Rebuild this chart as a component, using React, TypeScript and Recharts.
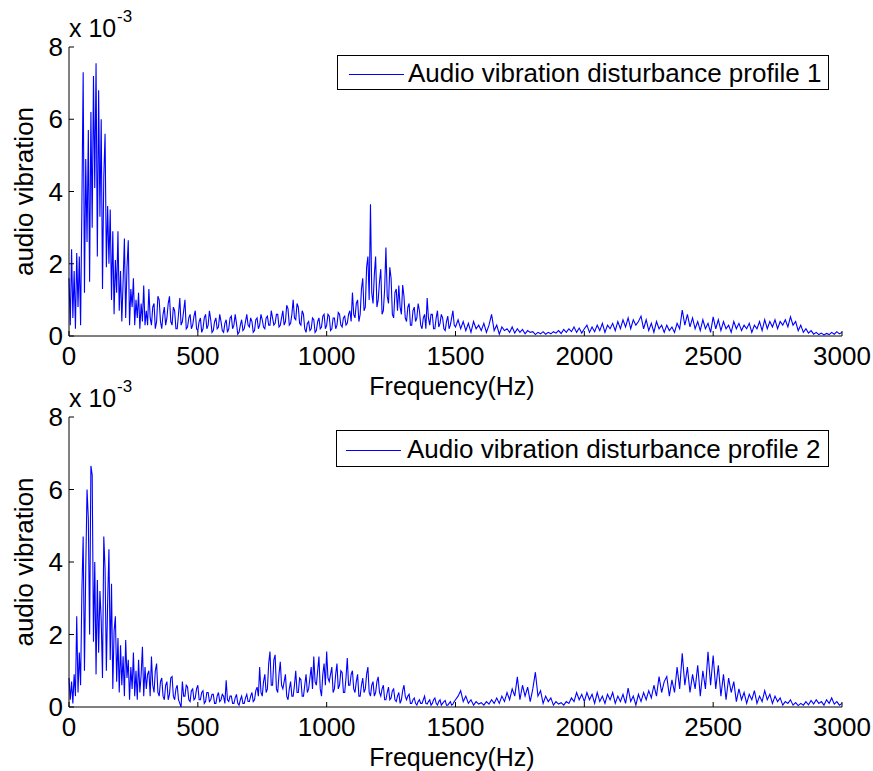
import React from 'react';
import { LineChart, Line, XAxis, YAxis, Legend } from 'recharts';

// Frequencies (Hz): 5 Hz grid from 0 to 1495 Hz, then 10 Hz grid from 1500 to 3000 Hz
const freqFine = Array.from({ length: 300 }, (_, i) => i * 5);
const freqCoarse = Array.from({ length: 151 }, (_, i) => 1500 + i * 10);
const freq = [...freqFine, ...freqCoarse];

// Values in units of 1e-3 — profile 1, 0-1495 Hz (5 Hz steps)
const profile1Fine = [
  // 0-95
  1.6, 0.3, 2.4, 0.5, 1.8, 0.2, 2.3, 0.8, 2.2, 0.3, 3.6, 7.3, 1.2, 4.9, 2.6, 5.7, 1.5, 6.2, 3.0, 7.2,
  // 100-195
  4.1, 7.55, 2.2, 6.8, 3.3, 6.0, 1.3, 4.4, 5.6, 1.9, 3.6, 2.0, 3.5, 1.0, 2.9, 0.6, 2.1, 1.2, 2.9, 0.7,
  // 200-295
  1.8, 0.4, 1.5, 2.7, 0.5, 1.9, 2.65, 0.3, 1.3, 0.8, 1.6, 0.3, 1.0, 0.5, 1.2, 0.2, 0.9, 0.4, 1.4, 0.3,
  // 300-395
  0.7, 0.3, 1.3, 0.5, 0.3, 0.8, 0.9, 0.2, 0.4, 1.1, 1.0, 0.4, 0.2, 0.6, 0.8, 0.3, 0.5, 0.9, 1.1, 0.4,
  // 400-495
  0.3, 0.8, 0.7, 0.2, 0.2, 0.6, 1.05, 0.3, 0.4, 0.7, 1.0, 0.2, 0.25, 0.5, 0.6, 0.2, 0.3, 0.55, 0.7, 0.2,
  // 500-595
  0.15, 0.4, 0.5, 0.1, 0.2, 0.5, 0.6, 0.2, 0.3, 0.7, 0.45, 0.1, 0.15, 0.4, 0.5, 0.2, 0.25, 0.6, 0.4, 0.15,
  // 600-695
  0.1, 0.35, 0.45, 0.1, 0.2, 0.5, 0.55, 0.2, 0.3, 0.6, 0.35, 0.05, 0.1, 0.3, 0.45, 0.15, 0.2, 0.4, 0.6, 0.3,
  // 700-795
  0.25, 0.5, 0.4, 0.1, 0.15, 0.45, 0.5, 0.2, 0.3, 0.6, 0.45, 0.25, 0.2, 0.5, 0.55, 0.3, 0.3, 0.7, 0.5, 0.3,
  // 800-895
  0.35, 0.6, 0.6, 0.25, 0.3, 0.5, 0.7, 0.3, 0.4, 0.85, 0.75, 0.3, 0.35, 0.6, 1.0, 0.5, 0.45, 0.9, 0.8, 0.35,
  // 900-995
  0.3, 0.7, 0.6, 0.2, 0.1, 0.35, 0.4, 0.15, 0.2, 0.5, 0.45, 0.1, 0.15, 0.4, 0.5, 0.2, 0.25, 0.55, 0.6, 0.2,
  // 1000-1095
  0.3, 0.6, 0.55, 0.15, 0.2, 0.5, 0.5, 0.2, 0.3, 0.65, 0.6, 0.3, 0.25, 0.5, 0.55, 0.3, 0.35, 0.6, 0.7, 0.4,
  // 1100-1195
  1.2, 0.6, 0.5, 0.9, 1.0, 0.4, 0.6, 1.3, 1.6, 0.7, 0.8, 1.9, 2.2, 1.0, 3.65, 1.2, 0.9, 1.7, 2.2, 0.8,
  // 1200-1295
  1.0, 1.5, 1.85, 0.6, 0.7, 1.3, 2.45, 1.1, 0.9, 1.9, 1.6, 0.6, 0.5, 1.2, 1.3, 0.7, 1.4, 0.8, 0.6, 1.41,
  // 1300-1395
  1.1, 0.5, 0.4, 0.8, 0.9, 0.3, 0.3, 0.7, 0.8, 0.4, 0.5, 0.9, 0.7, 0.3, 0.2, 0.5, 0.6, 0.2, 1.05, 0.5,
  // 1400-1495
  0.3, 0.6, 0.6, 0.2, 0.2, 0.5, 0.7, 0.25, 0.35, 0.6, 0.5, 0.2, 0.15, 0.4, 0.55, 0.2, 0.3, 0.5, 0.7, 0.3,
];
// profile 1, 1500-3000 Hz (10 Hz steps)
const profile1Coarse = [
  0.25,
  // 1510-1700
  0.45, 0.2, 0.4, 0.15, 0.35, 0.1, 0.4, 0.2, 0.3, 0.15, 0.35, 0.1, 0.3, 0.6, 0.15, 0.3, 0.05, 0.25, 0.15, 0.2,
  // 1710-2000
  0.1, 0.25, 0.08, 0.2, 0.1, 0.18, 0.06, 0.15, 0.1, 0.12, 0.04, 0.1, 0.06, 0.12, 0.05, 0.1, 0.06, 0.12, 0.08, 0.15,
  0.07, 0.18, 0.1, 0.2, 0.12, 0.25, 0.1, 0.22, 0.08, 0.2,
  // 2010-2300
  0.3, 0.1, 0.25, 0.12, 0.3, 0.15, 0.35, 0.1, 0.3, 0.2, 0.35, 0.15, 0.4, 0.2, 0.45, 0.25, 0.5, 0.2, 0.45, 0.3,
  0.4, 0.55, 0.2, 0.45, 0.15, 0.35, 0.1, 0.4, 0.2, 0.3,
  // 2310-2500
  0.1, 0.3, 0.15, 0.25, 0.1, 0.35, 0.2, 0.72, 0.3, 0.6, 0.25, 0.5, 0.2, 0.4, 0.15, 0.45, 0.2, 0.35, 0.1, 0.53,
  // 2510-2800
  0.2, 0.45, 0.15, 0.4, 0.2, 0.3, 0.1, 0.4, 0.2, 0.35, 0.15, 0.3, 0.2, 0.35, 0.1, 0.3, 0.2, 0.4, 0.15, 0.45,
  0.2, 0.4, 0.25, 0.45, 0.2, 0.4, 0.3, 0.45, 0.25, 0.53,
  // 2810-3000
  0.3, 0.4, 0.15, 0.3, 0.1, 0.2, 0.08, 0.15, 0.05, 0.1, 0.04, 0.08, 0.03, 0.07, 0.04, 0.1, 0.05, 0.12, 0.06, 0.1,
];

// profile 2, 0-1495 Hz (5 Hz steps)
const profile2Fine = [
  // 0-95
  0.8, 0.2, 0.7, 0.1, 0.9, 0.3, 2.5, 0.4, 1.5, 0.6, 3.2, 4.7, 1.0, 3.8, 6.0, 5.2, 2.0, 6.65, 6.4, 1.8,
  // 100-195
  4.0, 0.9, 3.5, 1.5, 3.2, 2.4, 0.8, 4.7, 3.8, 1.0, 2.9, 4.35, 1.3, 3.4, 0.5, 2.1, 2.5, 0.7, 1.9, 0.4,
  // 200-295
  1.7, 0.6, 1.4, 0.3, 1.85, 0.8, 1.3, 0.2, 1.1, 0.5, 1.5, 0.3, 1.0, 0.2, 1.3, 0.4, 0.9, 1.66, 0.3, 1.1,
  // 300-395
  0.5, 0.9, 1.0, 0.3, 1.39, 0.6, 0.4, 1.0, 1.2, 0.4, 0.3, 0.7, 0.8, 0.3, 0.2, 0.6, 0.7, 0.2, 0.35, 0.8,
  // 400-495
  0.84, 0.3, 0.2, 0.5, 0.6, 0.2, 0.1, 0.0, 0.7, 0.3, 0.3, 0.6, 0.55, 0.2, 0.15, 0.45, 0.5, 0.2, 0.25, 0.5,
  // 500-595
  0.6, 0.2, 0.2, 0.4, 0.45, 0.1, 0.15, 0.4, 0.4, 0.15, 0.2, 0.35, 0.35, 0.1, 0.1, 0.3, 0.4, 0.15, 0.2, 0.35,
  // 600-695
  0.3, 0.1, 0.74, 0.2, 0.15, 0.3, 0.3, 0.1, 0.1, 0.25, 0.35, 0.1, 0.05, 0.2, 0.3, 0.1, 0.1, 0.25, 0.35, 0.15,
  // 700-795
  0.15, 0.3, 0.4, 0.15, 0.2, 0.45, 0.55, 0.3, 1.1, 0.4, 0.3, 0.7, 0.9, 0.4, 0.5, 1.2, 1.53, 0.6, 0.6, 1.3,
  // 800-895
  1.44, 0.5, 0.4, 0.9, 1.25, 0.6, 0.5, 0.7, 0.9, 0.3, 0.2, 0.5, 0.7, 0.3, 0.3, 0.6, 1.0, 0.4, 0.4, 0.8,
  // 900-995
  0.75, 0.3, 0.3, 0.6, 0.9, 0.4, 0.5, 0.8, 1.1, 0.5, 1.39, 0.7, 0.6, 1.0, 1.39, 0.5, 0.3, 0.9, 1.2, 0.6,
  // 1000-1095
  1.53, 0.8, 0.7, 0.9, 1.1, 0.4, 0.5, 0.9, 1.2, 0.5, 0.6, 1.0, 0.95, 0.4, 0.4, 0.8, 1.35, 0.6, 0.6, 0.9,
  // 1100-1195
  1.0, 0.5, 0.4, 0.7, 0.9, 0.3, 0.3, 0.6, 0.8, 0.4, 0.5, 0.9, 1.1, 0.4, 0.3, 0.6, 0.7, 0.3, 0.4, 0.7,
  // 1200-1295
  0.83, 0.4, 0.3, 0.5, 0.6, 0.2, 0.2, 0.4, 0.55, 0.2, 0.25, 0.45, 0.5, 0.2, 0.15, 0.3, 0.4, 0.1, 0.2, 0.45,
  // 1300-1395
  0.6, 0.3, 0.2, 0.3, 0.35, 0.1, 0.1, 0.2, 0.25, 0.1, 0.05, 0.15, 0.2, 0.1, 0.1, 0.2, 0.3, 0.1, 0.08, 0.15,
  // 1400-1495
  0.2, 0.05, 0.1, 0.2, 0.25, 0.1, 0.05, 0.15, 0.2, 0.05, 0.1, 0.15, 0.18, 0.05, 0.05, 0.1, 0.15, 0.05, 0.08, 0.15,
];
// profile 2, 1500-3000 Hz (10 Hz steps)
const profile2Coarse = [
  0.2,
  // 1510-1700
  0.3, 0.45, 0.15, 0.3, 0.1, 0.2, 0.05, 0.15, 0.08, 0.12, 0.05, 0.15, 0.08, 0.2, 0.1, 0.25, 0.1, 0.3, 0.15, 0.4,
  // 1710-2000
  0.2, 0.5, 0.3, 0.83, 0.2, 0.6, 0.3, 0.55, 0.15, 0.5, 0.96, 0.3, 0.45, 0.1, 0.3, 0.15, 0.25, 0.05, 0.15, 0.08,
  0.12, 0.05, 0.15, 0.1, 0.25, 0.15, 0.4, 0.2, 0.35, 0.15,
  // 2010-2300
  0.4, 0.2, 0.35, 0.1, 0.4, 0.15, 0.3, 0.1, 0.35, 0.2, 0.4, 0.1, 0.3, 0.15, 0.35, 0.1, 0.52, 0.15, 0.3, 0.05,
  0.35, 0.15, 0.4, 0.2, 0.45, 0.25, 0.6, 0.3, 0.84, 0.4,
  // 2310-2500
  0.7, 0.84, 0.3, 0.75, 0.4, 1.1, 0.5, 1.48, 0.6, 1.1, 0.4, 0.9, 0.5, 1.15, 0.3, 1.0, 0.5, 1.52, 0.6, 1.42,
  // 2510-2800
  0.5, 1.15, 0.3, 0.9, 0.2, 0.8, 0.4, 0.7, 0.15, 0.5, 0.2, 0.4, 0.1, 0.35, 0.2, 0.45, 0.1, 0.3, 0.15, 0.45,
  0.2, 0.35, 0.1, 0.3, 0.15, 0.25, 0.05, 0.15, 0.1, 0.2,
  // 2810-3000
  0.05, 0.12, 0.04, 0.1, 0.05, 0.15, 0.06, 0.18, 0.08, 0.2, 0.1, 0.15, 0.05, 0.2, 0.1, 0.25, 0.08, 0.15, 0.05, 0.1,
];

const X_TICKS = [0, 500, 1000, 1500, 2000, 2500, 3000];
const Y_TICKS = [0, 2, 4, 6, 8];
const LEGEND1 = 'Audio vibration disturbance profile 1';
const LEGEND2 = 'Audio vibration disturbance profile 2';
const X_LABEL = 'Frequency(Hz)';
const Y_LABEL = 'audio vibration';

const FONT = '"Liberation Sans", Arial, Helvetica, sans-serif';
const FS = 26;

const buildData = (fine: number[], coarse: number[]) => {
  const vals = [...fine, ...coarse];
  return freq.map((f, i) => ({ f, v: vals[i] }));
};
const data1 = buildData(profile1Fine, profile1Coarse);
const data2 = buildData(profile2Fine, profile2Coarse);

type LegendBox = { left: number; top: number; width: number; height: number; textX: number; lineX1: number; lineX2: number };

const makeLegend = (text: string, box: LegendBox) => () => (
  <div
    style={{
      width: box.width,
      height: box.height,
      border: '1px solid #000',
      background: '#fff',
      boxSizing: 'border-box',
    }}
  >
    <svg width={box.width - 2} height={box.height - 2} style={{ display: 'block' }}>
      <line x1={box.lineX1} x2={box.lineX2} y1={(box.height - 2) / 2 + 2} y2={(box.height - 2) / 2 + 2} stroke="#0000ff" strokeWidth={1} />
      <text x={box.textX} y={(box.height - 2) / 2 + 9} fontSize={FS} fontFamily={FONT} fill="#000">
        {text}
      </text>
    </svg>
  </div>
);

type PanelProps = {
  data: { f: number; v: number }[];
  legendText: string;
  legendBox: LegendBox;
  plotHeight: number;
};

const CH = 400;
const Y_AXIS_W = 60;
const X_AXIS_H = 40;

const Panel = ({ data, legendText, legendBox, plotHeight }: PanelProps) => {
  const top = 47;
  const bottom = CH - top - plotHeight - X_AXIS_H;
  return (
    <LineChart
      width={873}
      height={CH}
      data={data}
      margin={{ top, right: 31, left: 69 - Y_AXIS_W, bottom }}
      style={{ fontFamily: FONT }}
    >
      <XAxis
        xAxisId="b"
        dataKey="f"
        type="number"
        domain={[0, 3000]}
        ticks={X_TICKS}
        height={X_AXIS_H}
        tickSize={-5}
        tickMargin={16}
        axisLine={{ stroke: '#000' }}
        tickLine={{ stroke: '#000' }}
        tick={{ fill: '#000', fontSize: FS, fontFamily: FONT }}
        interval={0}
      />
      <XAxis
        xAxisId="t"
        dataKey="f"
        orientation="top"
        type="number"
        domain={[0, 3000]}
        ticks={X_TICKS}
        height={0}
        tickSize={-5}
        axisLine={{ stroke: '#000' }}
        tickLine={{ stroke: '#000' }}
        tick={false}
      />
      <YAxis
        yAxisId="l"
        type="number"
        domain={[0, 8]}
        ticks={Y_TICKS}
        width={Y_AXIS_W}
        tickSize={-5}
        tickMargin={11}
        axisLine={{ stroke: '#000' }}
        tickLine={{ stroke: '#000' }}
        tick={{ fill: '#000', fontSize: FS, fontFamily: FONT }}
        interval={0}
      />
      <YAxis
        yAxisId="r"
        orientation="right"
        type="number"
        domain={[0, 8]}
        ticks={Y_TICKS}
        width={0}
        tickSize={-5}
        axisLine={{ stroke: '#000' }}
        tickLine={{ stroke: '#000' }}
        tick={false}
      />
      <Legend
        layout="horizontal"
        verticalAlign="middle"
        align="center"
        wrapperStyle={{ left: legendBox.left, top: legendBox.top, width: legendBox.width, height: legendBox.height }}
        content={makeLegend(legendText, legendBox)}
      />
      <Line
        xAxisId="b"
        yAxisId="l"
        type="linear"
        dataKey="v"
        stroke="#0000ff"
        strokeWidth={1.1}
        dot={false}
        activeDot={false}
        isAnimationActive={false}
        name={legendText}
      />
    </LineChart>
  );
};

const AxisTexts = ({ offsetY, plotTop, plotBottom }: { offsetY: number; plotTop: number; plotBottom: number }) => (
  <g fontFamily={FONT} fill="#000">
    <text x={69} y={offsetY + 37} fontSize={25}>x 10</text>
    <text x={117} y={offsetY + 22} fontSize={17}>-3</text>
    <text x={452} y={plotBottom + 59} fontSize={25} textAnchor="middle">{X_LABEL}</text>
    <text
      x={33}
      y={(plotTop + plotBottom) / 2}
      fontSize={FS}
      textAnchor="middle"
      transform={`rotate(-90 33 ${(plotTop + plotBottom) / 2})`}
    >
      {Y_LABEL}
    </text>
  </g>
);

export default function App() {
  return (
    <div style={{ position: 'absolute', left: 0, top: 0, width: 873, height: 771, background: '#fff', overflow: 'hidden' }}>
      <div style={{ position: 'absolute', left: 0, top: 0 }}>
        <Panel
          data={data1}
          legendText={LEGEND1}
          legendBox={{ left: 337, top: 55, width: 492, height: 35, textX: 70, lineX1: 11, lineX2: 66 }}
          plotHeight={289}
        />
      </div>
      <div style={{ position: 'absolute', left: 0, top: 370 }}>
        <Panel
          data={data2}
          legendText={LEGEND2}
          legendBox={{ left: 336, top: 60, width: 493, height: 37, textX: 70, lineX1: 9, lineX2: 64 }}
          plotHeight={290}
        />
      </div>
      <svg width={873} height={771} style={{ position: 'absolute', left: 0, top: 0, pointerEvents: 'none' }}>
        <AxisTexts offsetY={0} plotTop={47} plotBottom={336} />
        <AxisTexts offsetY={370} plotTop={417} plotBottom={707} />
      </svg>
    </div>
  );
}
